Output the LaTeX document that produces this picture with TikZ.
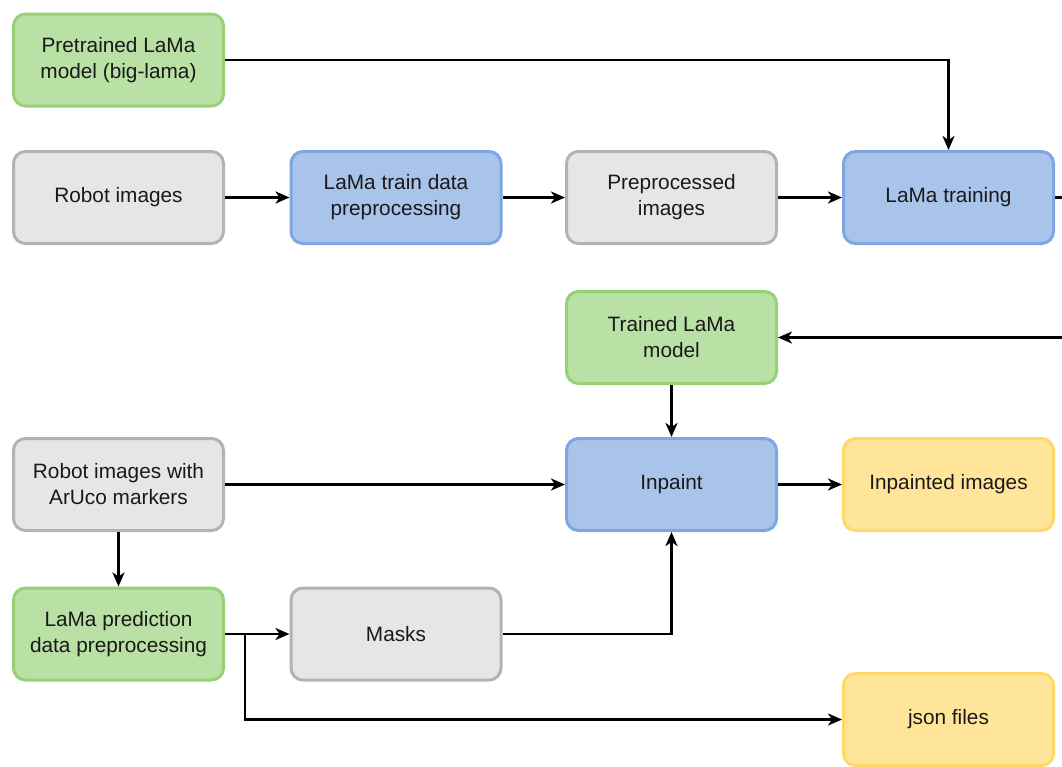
\documentclass[tikz,border=0pt]{standalone}
\usepackage{fontspec}
\setmainfont{Liberation Sans}
\usetikzlibrary{arrows.meta,positioning}
\definecolor{gfill}{HTML}{B9E0A5}\definecolor{gline}{HTML}{97D077}
\definecolor{yfill}{HTML}{E6E6E6}\definecolor{yline}{HTML}{B3B3B3}
\definecolor{bfill}{HTML}{A9C4EB}\definecolor{bline}{HTML}{7EA6E0}
\definecolor{ofill}{HTML}{FFE599}\definecolor{oline}{HTML}{FFD966}
\tikzset{
  box/.style={rounded corners=12pt, line width=3pt, minimum width=210pt, minimum height=92pt,
    align=center, font=\fontsize{20.8}{26}\selectfont, text=black!90, inner sep=0pt},
  greenbox/.style={box, fill=gfill, draw=gline},
  graybox/.style={box, fill=yfill, draw=yline},
  bluebox/.style={box, fill=bfill, draw=bline},
  yellowbox/.style={box, fill=ofill, draw=oline},
  conn/.style={line width=2.8pt, -{Stealth[length=14pt,width=12pt,inset=4pt]}},
  plain/.style={line width=2.8pt}
}
\begin{document}
\begin{tikzpicture}[x=1pt,y=-1pt]
\clip (0,0) rectangle (1062,766);
\useasboundingbox (0,0) rectangle (1062,766);
\node[greenbox] (pre) at (118.5,60) {Pretrained LaMa\\model (big-lama)};
\node[graybox] (robot) at (118.5,197.5) {Robot images};
\node[bluebox] (trainprep) at (396,197.5) {LaMa train data\\preprocessing};
\node[graybox] (preproc) at (671.5,197.5) {Preprocessed\\images};
\node[bluebox] (train) at (948.5,197.5) {LaMa training};
\node[greenbox] (trained) at (671.5,337.5) {Trained LaMa\\model};
\node[graybox] (aruco) at (118.5,484.5) {Robot images with\\ArUco markers};
\node[bluebox] (inpaint) at (671.5,484.5) {Inpaint};
\node[yellowbox] (inpainted) at (948.5,484.5) {Inpainted images};
\node[greenbox] (predprep) at (118.5,634) {LaMa prediction\\data preprocessing};
\node[graybox] (masks) at (396,634) {Masks};
\node[yellowbox] (json) at (948.5,719.5) {json files};
\coordinate (r1) at (1080,197.5);
\coordinate (r2) at (1080,337.5);
\coordinate (br) at (245,634);
\draw[conn] (pre.east) -| (train.north);
\draw[conn] (robot) -- (trainprep);
\draw[conn] (trainprep) -- (preproc);
\draw[conn] (preproc) -- (train);
\draw[conn] (train.east) -- (r1) -- (r2) -- (trained.east);
\draw[conn] (trained) -- (inpaint);
\draw[conn] (aruco) -- (inpaint);
\draw[conn] (inpaint) -- (inpainted);
\draw[conn] (aruco) -- (predprep);
\draw[conn] (predprep) -- (masks);
\draw[conn] (br) |- (json.west);
\draw[conn] (masks.east) -| (inpaint.south);
\end{tikzpicture}
\end{document}
